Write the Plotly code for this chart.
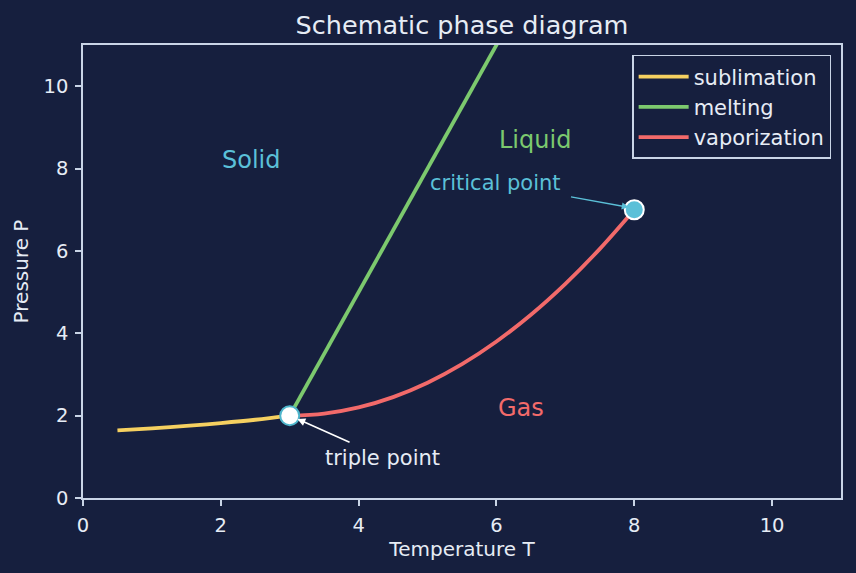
import plotly.graph_objects as go

# Data
sub_T = [0.5, 1.0, 1.5, 2.0, 2.5, 3.0]
sub_P = [1.64, 1.69, 1.75, 1.82, 1.90, 2.0]
melt_T = [3.0, 6.3]
melt_P = [2.0, 11.9]
vap_T = [3.0, 3.5, 4.0, 4.5, 5.0, 5.5, 6.0, 6.5, 7.0, 7.5, 8.0]
vap_P = [2.0, 2.05, 2.2, 2.45, 2.8, 3.25, 3.8, 4.45, 5.2, 6.05, 7.0]
triple = (3.0, 2.0)
critical = (8.0, 7.0)
x_ticks = [0, 2, 4, 6, 8, 10]
y_ticks = [0, 2, 4, 6, 8, 10]

BG = "#161f3e"
FG = "#e6ecf5"
AX = "#c9d4e6"
YEL = "#f5d060"
GRN = "#7cc96e"
RED = "#f26a6a"
CYN = "#5bc0d8"
FONT = "DejaVu Sans"

fig = go.Figure()
fig.add_trace(go.Scatter(x=sub_T, y=sub_P, mode="lines", name="sublimation",
                         line=dict(color=YEL, width=3.8, shape="spline")))
fig.add_trace(go.Scatter(x=melt_T, y=melt_P, mode="lines", name="melting",
                         line=dict(color=GRN, width=3.8)))
fig.add_trace(go.Scatter(x=vap_T, y=vap_P, mode="lines", name="vaporization",
                         line=dict(color=RED, width=3.8, shape="spline")))
fig.add_trace(go.Scatter(x=[triple[0]], y=[triple[1]], mode="markers", showlegend=False,
                         marker=dict(size=19, color="white", line=dict(color="#4fb6cc", width=2))))
fig.add_trace(go.Scatter(x=[critical[0]], y=[critical[1]], mode="markers", showlegend=False,
                         marker=dict(size=19, color=CYN, line=dict(color="white", width=2))))

# arrows
fig.add_annotation(x=3.11, y=1.92, ax=3.89, ay=1.34, xref="x", yref="y", axref="x", ayref="y",
                   text="", showarrow=True, arrowhead=2, arrowsize=1, arrowwidth=1.6,
                   arrowcolor="white")
fig.add_annotation(x=7.92, y=7.06, ax=7.06, ay=7.32, xref="x", yref="y", axref="x", ayref="y",
                   text="", showarrow=True, arrowhead=2, arrowsize=1, arrowwidth=1.4,
                   arrowcolor=CYN)
fig.add_annotation(x=4.35, y=0.97, text="triple point", showarrow=False,
                   font=dict(family=FONT, size=21, color=FG))
fig.add_annotation(x=5.98, y=7.64, text="critical point", showarrow=False,
                   font=dict(family=FONT, size=21, color=CYN))
fig.add_annotation(x=2.45, y=8.2, text="Solid", showarrow=False,
                   font=dict(family=FONT, size=24, color=CYN))
fig.add_annotation(x=6.56, y=8.69, text="Liquid", showarrow=False,
                   font=dict(family=FONT, size=24, color=GRN))
fig.add_annotation(x=6.36, y=2.19, text="Gas", showarrow=False,
                   font=dict(family=FONT, size=24, color=RED))

axis_common = dict(showline=True, linecolor=AX, linewidth=1.5, mirror=True,
                   ticks="outside", ticklen=6, tickwidth=1.5, tickcolor=AX,
                   showgrid=False, zeroline=False, ticklabelstandoff=3,
                   tickfont=dict(family=FONT, size=19.5, color=FG))

fig.update_layout(
    width=856, height=573,
    margin=dict(l=83, r=15, t=45, b=75),
    paper_bgcolor=BG, plot_bgcolor=BG,
    font=dict(family=FONT, color=FG),
    title=dict(text="Schematic phase diagram", x=0.5, xref="paper", y=1 - 25 / 573,
               yref="container", yanchor="middle", xanchor="center",
               font=dict(family=FONT, size=25.5, color=FG)),
    xaxis=dict(range=[0, 11], tickvals=x_ticks,
               title=dict(text="Temperature T", standoff=6,
                          font=dict(family=FONT, size=20, color=FG)),
               **axis_common),
    yaxis=dict(range=[0, 11], tickvals=y_ticks,
               title=dict(text="Pressure P", standoff=10,
                          font=dict(family=FONT, size=20, color=FG)),
               **axis_common),
    legend=dict(x=0.987, y=0.978, xanchor="right", yanchor="top",
                bgcolor=BG, bordercolor=AX, borderwidth=1.5,
                font=dict(family=FONT, size=21, color=FG),
                tracegroupgap=0, itemwidth=50),
    showlegend=True,
)

fig.write_html("out.html")
